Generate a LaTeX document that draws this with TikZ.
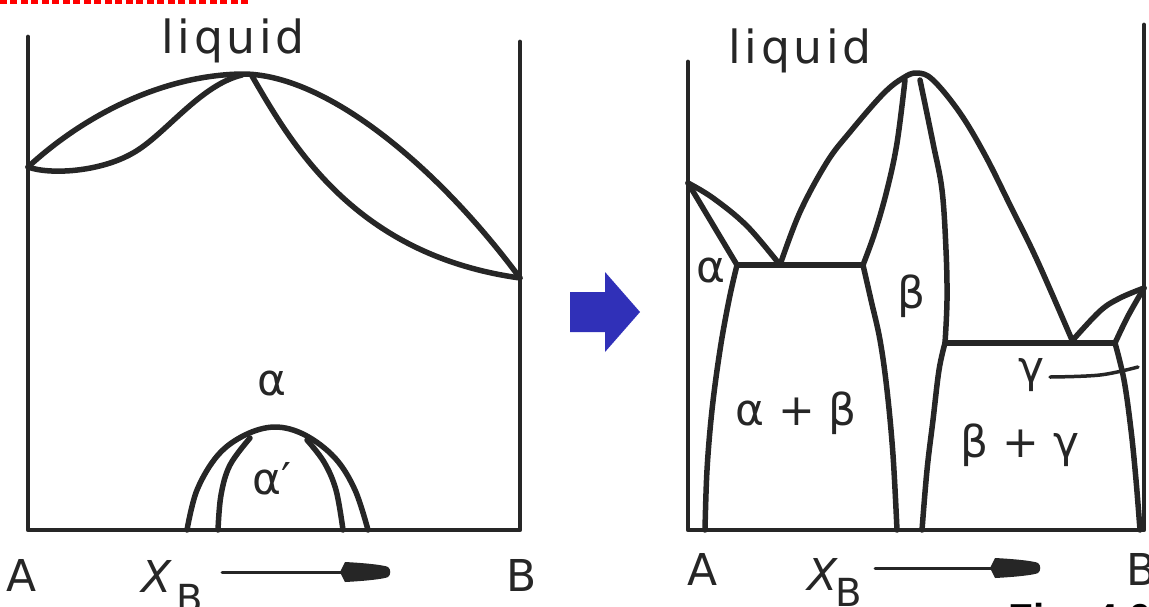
\documentclass[tikz,border=0pt]{standalone}
\usepackage{fontspec}
\setmainfont{DejaVu Sans}
\newfontfamily\figfont{Liberation Sans}
\begin{document}
\begin{tikzpicture}[x=0.02cm,y=-0.02cm, line join=round, line cap=round,
  curve/.style={line width=0.11cm, black!85},
  axisline/.style={line width=0.095cm, black!85},
  lbl/.style={font=\fontsize{25pt}{30pt}\selectfont, inner sep=0pt, text=black!85},
  liq/.style={font=\fontsize{26pt}{30pt}\selectfont\addfontfeature{LetterSpace=8}, inner sep=0pt, text=black!85},
  sub/.style={font=\fontsize{22pt}{26pt}\selectfont, inner sep=0pt, text=black!85},
  bighead/.style={fill=black!85},
  bluearrow/.style={fill=arrowblue, draw=none}]
\definecolor{arrowblue}{RGB}{48,48,184}
\useasboundingbox (0,0) rectangle (1149,606);

% red dashed mark at top left
\draw[red, line width=0.07cm, dash pattern=on 0.14cm off 0.07cm, line cap=butt] (0,2) -- (250,2);

% ================= left panel =================
\coordinate (LA) at (28,37);
\coordinate (LB) at (520,42);
\coordinate (LA0) at (28,530);
\coordinate (LB0) at (520,530);
\draw[axisline] (LA) -- (LA0) -- (LB0) -- (LB);

% liquidus / solidus lens
\coordinate (LmA) at (28,167);
\coordinate (Lpk) at (245,74);
\coordinate (LmB) at (520,278);
\draw[curve] (LmA) .. controls (90,110) and (170,74) .. (Lpk) .. controls (330,76) and (440,170) .. (LmB);
\draw[curve] (LmA) .. controls (50,175) and (100,172) .. (133,153) .. controls (165,135) and (200,85) .. (242,75);
\draw[curve] (252,76) .. controls (292,145) and (355,255) .. (LmB);

% ordering dome
\draw[curve] plot[smooth, tension=0.6] coordinates {(187,530) (197,490) (218,455) (245,435) (275,427) (305,435) (335,458) (355,490) (368,530)};
\draw[curve] plot[smooth, tension=0.6] coordinates {(218,530) (221,495) (230,465) (250,438)};
\draw[curve] plot[smooth, tension=0.6] coordinates {(343,530) (336,490) (324,462) (307,440)};

\node[liq, anchor=base] (liqL) at (233,53) {liquid};
\node[lbl, anchor=base] (alphaL) at (272,395) {α};
\node[lbl, anchor=base] (alphapL) at (272,494) {α′};
\node[lbl, anchor=base] (AL) at (22,591) {A};
\node[lbl, anchor=base] (BL) at (522,591) {B};
\node[lbl, anchor=base] (XL) at (157,592) {\itshape X};
\node[sub, anchor=base] (XBL) at (190,612) {B};
\coordinate (arL1) at (222,572);
\coordinate (arL2) at (345,572);
\draw[line width=0.06cm, black!85] (arL1) -- (arL2);
\begin{scope}[shift={(340,572)}]
  \fill[bighead] (0,0) -- (5,-10) .. controls (25,-9) and (44,-7) .. (48,-5) .. controls (51,-3) and (51,3) .. (48,5) .. controls (44,7) and (25,9) .. (5,10) -- cycle;
\end{scope}

% ================= blue arrow =================
\fill[bluearrow] (570,292) -- (605,292) -- (605,272) -- (640,312) -- (605,352) -- (605,332) -- (570,332) -- cycle;

% ================= right panel =================
\coordinate (RA) at (688,62);
\coordinate (RB) at (1144,25);
\coordinate (RA0) at (688,530);
\coordinate (RB0) at (1144,530);
\draw[axisline] (RA) -- (RA0) -- (RB0) -- (RB);

% alpha side
\draw[curve] plot[smooth, tension=0.6] coordinates {(688,183) (713,198) (747,226) (780,265)};
\draw[curve] (688,183) -- (737,265);
\draw[curve] (737,265) -- (863,265);
\draw[curve] plot[smooth, tension=0.6] coordinates {(737,265) (729,300) (720,350) (712,410) (707,470) (705,530)};

% central liquidus with beta peak
\draw[curve] plot[smooth, tension=0.6] coordinates {(780,265) (800,212) (827,162) (850,132) (883,94) (903,78) (917,73) (933,80) (960,113) (985,155) (1010,205) (1037,260) (1072,340)};

% beta solidus / solvus
\draw[curve] plot[smooth, tension=0.6] coordinates {(905,80) (897,143) (887,190) (875,232) (863,265)};
\draw[curve] plot[smooth, tension=0.6] coordinates {(863,265) (871,300) (880,340) (887,390) (893,455) (897,530)};
\draw[curve] plot[smooth, tension=0.6] coordinates {(920,80) (933,143) (942,190) (946,250) (947,300) (945,343)};
\draw[curve] plot[smooth, tension=0.6] coordinates {(945,343) (939,370) (933,420) (927,470) (922,530)};

% gamma side
\draw[curve] (945,343) -- (1115,343);
\draw[curve] plot[smooth, tension=0.6] coordinates {(1072,341) (1100,311) (1120,298) (1144,288)};
\draw[curve] plot[smooth, tension=0.6] coordinates {(1144,288) (1128,316) (1115,343)};
\draw[curve] plot[smooth, tension=0.6] coordinates {(1115,343) (1124,380) (1131,430) (1136,480) (1140,530)};
\coordinate (gp1) at (1050,377);
\coordinate (gp2) at (1138,367);
\draw[line width=0.07cm, black!85] plot[smooth, tension=0.6] coordinates {(gp1) (1100,375) (gp2)};

\node[liq, anchor=base] (liqR) at (800,63) {liquid};
\node[lbl, anchor=base] (alphaR) at (711,282) {α};
\node[lbl, anchor=base] (betaR) at (912,308) {β};
\node[lbl, anchor=base] (abR) at (796,425) {α + β};
\node[lbl, anchor=base] (gammaR) at (1031,382) {γ};
\node[lbl, anchor=base] (bgR) at (1020,457) {β + γ};
\node[lbl, anchor=base] (AR) at (703,585) {A};
\node[lbl, anchor=base west] (BR) at (1126,585) {B};
\node[lbl, anchor=base] (XR) at (823,590) {\itshape X};
\node[sub, anchor=base] (XBR) at (849,606) {B};
\coordinate (arR1) at (875,568);
\coordinate (arR2) at (995,568);
\draw[line width=0.06cm, black!85] (arR1) -- (arR2);
\begin{scope}[shift={(990,568)}]
  \fill[bighead] (0,0) -- (5,-10) .. controls (25,-9) and (44,-7) .. (48,-5) .. controls (51,-3) and (51,3) .. (48,5) .. controls (44,7) and (25,9) .. (5,10) -- cycle;
\end{scope}

% caption, cut by the lower edge
\begin{scope}
  \clip (0,0) rectangle (1149,606);
  \node[inner sep=0pt, anchor=base west, font=\figfont\bfseries\fontsize{23pt}{27pt}\selectfont] (fig) at (1008,632) {Fig. 4.6};
\end{scope}
\end{tikzpicture}
\end{document}
